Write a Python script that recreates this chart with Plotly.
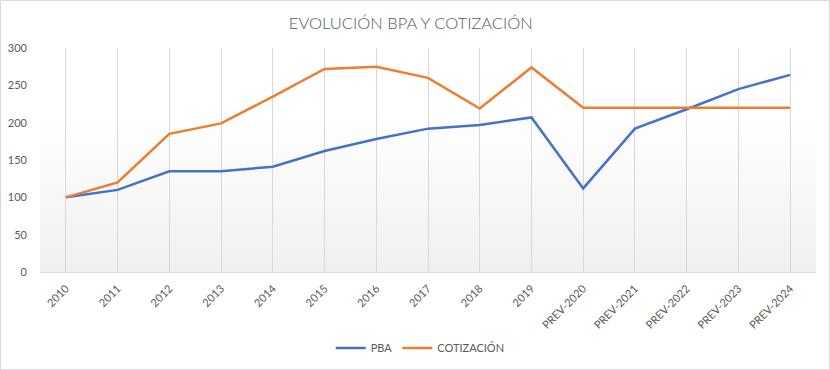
import base64
import plotly.graph_objects as go

categories = ["2010", "2011", "2012", "2013", "2014", "2015", "2016", "2017", "2018", "2019",
              "PREV-2020", "PREV-2021", "PREV-2022", "PREV-2023", "PREV-2024"]
pba = [100, 110, 135, 135, 141, 162, 178, 192, 197, 207, 112, 192, 218, 245, 264]
cotizacion = [100, 120, 185, 199, 235, 272, 275, 260, 219, 274, 220, 220, 220, 220, 220]
y_ticks = [0, 50, 100, 150, 200, 250, 300]

TXT = "#595959"
FONT = "Lato"

W, H = 830, 370
ML, MR, MT, MB = 40, 14, 48, 98
PW, PH = W - ML - MR, H - MT - MB

svg = ("<svg xmlns='http://www.w3.org/2000/svg' width='100' height='100' preserveAspectRatio='none'>"
       "<defs><linearGradient id='g' x1='0' y1='0' x2='0' y2='1'>"
       "<stop offset='0' stop-color='#ffffff'/><stop offset='0.3' stop-color='#ffffff'/>"
       "<stop offset='1' stop-color='#f0f0f0'/></linearGradient></defs>"
       "<rect width='100' height='100' fill='url(#g)'/></svg>")
bg_uri = "data:image/svg+xml;base64," + base64.b64encode(svg.encode()).decode()

fig = go.Figure()
fig.add_trace(go.Scatter(x=categories, y=pba, name="PBA", mode="lines",
                         line=dict(color="#4472C4", width=2.5)))
fig.add_trace(go.Scatter(x=categories, y=cotizacion, name="COTIZACIÓN", mode="lines",
                         line=dict(color="#ED7D31", width=2.5)))

fig.update_layout(
    width=W, height=H,
    margin=dict(l=ML, r=MR, t=MT, b=MB, autoexpand=False),
    paper_bgcolor="white",
    plot_bgcolor="rgba(0,0,0,0)",
    title=dict(text="EVOLUCIÓN BPA Y COTIZACIÓN", x=0.495, xref="container", xanchor="center",
               y=1 - 23 / H, yref="container", yanchor="middle",
               font=dict(family=FONT, size=16.5, color=TXT, weight=300)),
    font=dict(family=FONT, size=11, color=TXT),
    showlegend=True,
    legend=dict(orientation="h", x=0.49, xanchor="center", y=(272 - 348) / PH, yanchor="middle",
                font=dict(family=FONT, size=11, color=TXT), itemwidth=30,
                bgcolor="rgba(0,0,0,0)"),
    images=[dict(source=bg_uri, xref="paper", yref="paper", x=0, y=1, sizex=1, sizey=1,
                 xanchor="left", yanchor="top", sizing="stretch", layer="below")],
    shapes=[dict(type="rect", xref="paper", yref="paper",
                 x0=(0.5 - ML) / PW, x1=(W - 0.5 - ML) / PW,
                 y0=(H - MB - (H - 0.5)) / PH, y1=(H - MB - 0.5) / PH,
                 line=dict(color="#d9d9d9", width=1), fillcolor="rgba(0,0,0,0)", layer="below")],
)

fig.update_xaxes(type="category", range=[-0.5, len(categories) - 0.5], automargin=False,
                 showgrid=True, gridcolor="#d9d9d9", gridwidth=1,
                 showline=True, linecolor="#d9d9d9", linewidth=1,
                 ticks="", tickangle=-45, ticklabelstandoff=5,
                 tickfont=dict(family=FONT, size=11, color=TXT),
                 zeroline=False, fixedrange=True)
fig.update_yaxes(range=[0, 300], tickvals=y_ticks, ticktext=[str(v) for v in y_ticks],
                 automargin=False,
                 showgrid=False, zeroline=False, showline=False, ticks="",
                 ticklabelstandoff=12, tickfont=dict(family=FONT, size=11, color=TXT),
                 fixedrange=True)

fig.write_html("out.html", config={"displayModeBar": False},
               post_script="document.body.style.margin='0';document.body.style.overflow='hidden';")
